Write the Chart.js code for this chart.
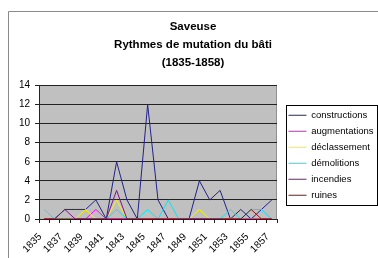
<!DOCTYPE html>
<html>
<head>
<meta charset="utf-8">
<script src="https://cdn.jsdelivr.net/npm/chart.js@4.4.0/dist/chart.umd.min.js"></script>
<style>
html, body { margin: 0; padding: 0; background: #fff; overflow: hidden; }
#wrap { position: relative; width: 378px; height: 258px; }
</style>
</head>
<body>
<div id="wrap"><canvas id="chart"></canvas></div>
<script>
var years = ['1835','1836','1837','1838','1839','1840','1841','1842','1843','1844','1845','1846',
             '1847','1848','1849','1850','1851','1852','1853','1854','1855','1856','1857'];
var constructions = [0,0,1,1,1,2,0,6,2,0,12,2,0,0,0,4,2,3,0,1,0,1,2];
var augmentations = [0,0,0,0,0,1,0,0,0,0,0,0,0,0,0,0,0,0,0,0,0,0,0];
var declassement  = [0,0,0,0,1,0,0,2,0,0,0,0,0,0,0,1,0,0,0,0,0,0,0];
var demolitions   = [1,0,0,0,0,0,0,1,0,0,1,0,2,0,0,0,0,0,1,0,1,1,0];
var incendies     = [0,0,1,0,0,0,0,3,0,0,0,0,0,0,0,0,0,0,0,0,0,0,0];
var ruines        = [0,0,0,0,0,0,0,0,0,0,0,0,0,0,0,0,0,0,0,0,1,0,0];
var yTicks = [0,2,4,6,8,10,12,14];

var FONT = "'Liberation Sans', Arial, sans-serif";

// frame round the whole chart + grey plot background + legend box
var frame = {
    id: 'frame',
    afterLayout: function (chart) {
        // legend sits a bit lower than chart.js would centre it
        var lg = chart.legend;
        var h = Math.max(lg.bottom - lg.top, 130);
        lg.top = 104;
        lg.bottom = lg.top + h;
    },
    beforeDraw: function (chart) {
        var ctx = chart.ctx, a = chart.chartArea;
        ctx.save();
        ctx.fillStyle = '#fff';
        ctx.fillRect(0, 0, chart.width, chart.height);
        ctx.strokeStyle = '#8a8a8a';
        ctx.lineWidth = 1;
        ctx.beginPath();
        ctx.moveTo(8.5, chart.height + 2);
        ctx.lineTo(8.5, 11.5);
        ctx.lineTo(chart.width + 2, 11.5);
        ctx.stroke();
        ctx.fillStyle = '#c0c0c0';
        ctx.fillRect(a.left, a.top, a.right - a.left, a.bottom - a.top);
        ctx.strokeStyle = '#909090';
        ctx.beginPath();
        ctx.moveTo(Math.round(a.right) - 0.5, a.top);
        ctx.lineTo(Math.round(a.right) - 0.5, a.bottom);
        ctx.stroke();
        ctx.restore();
    },
    afterDraw: function (chart) {
        var hb = chart.legend.legendHitBoxes;
        if (!hb || !hb.length) return;
        var l = Infinity, r = -Infinity, t = Infinity, b = -Infinity;
        hb.forEach(function (h) {
            l = Math.min(l, h.left);
            r = Math.max(r, h.left + h.width);
            t = Math.min(t, h.top);
            b = Math.max(b, h.top + h.height);
        });
        var ctx = chart.ctx;
        ctx.save();
        ctx.strokeStyle = '#000';
        ctx.lineWidth = 1;
        ctx.strokeRect(Math.round(l - 3) + 0.5, Math.round(t - 6) + 0.5, Math.round(r - l + 6), Math.round(b - t + 10));
        ctx.restore();
    }
};

function serie(label, data, color, order) {
    return {
        label: label,
        data: data,
        borderColor: color,
        backgroundColor: color,
        borderWidth: 1,
        pointRadius: 0,
        tension: 0,
        fill: false,
        order: order
    };
}

new Chart(document.getElementById('chart'), {
    type: 'line',
    data: {
        labels: years,
        datasets: [
            serie('constructions', constructions, '#22228a', 5),
            serie('augmentations', augmentations, '#ff00ff', 4),
            serie('déclassement', declassement, '#f5f500', 3),
            serie('démolitions', demolitions, '#00e8f0', 2),
            serie('incendies', incendies, '#86108a', 1),
            serie('ruines', ruines, '#8a1010', 0)
        ]
    },
    options: {
        responsive: true,
        maintainAspectRatio: false,
        animation: false,
        devicePixelRatio: 1,
        layout: { padding: { top: 14, left: 8, right: 0, bottom: 0 } },
        plugins: {
            title: {
                display: true,
                text: ['Saveuse', 'Rythmes de mutation du bâti', '(1835-1858)'],
                color: '#000',
                font: { family: FONT, size: 11.5, weight: 'bold', lineHeight: 1.55 },
                padding: { top: 4, bottom: 14 }
            },
            legend: {
                position: 'right',
                align: 'start',
                maxWidth: 96,
                labels: {
                    usePointStyle: true,
                    pointStyle: 'line',
                    pointStyleWidth: 18,
                    padding: 6.5,
                    color: '#000',
                    font: { family: FONT, size: 9.5 },
                    sort: function (a, b) { return a.datasetIndex - b.datasetIndex; }
                }
            },
            tooltip: { enabled: false }
        },
        scales: {
            x: {
                offset: true,
                grid: { offset: true, drawOnChartArea: false, drawTicks: true, tickLength: 4, color: '#222' },
                border: { display: true, color: '#222' },
                ticks: {
                    autoSkip: false,
                    minRotation: 45,
                    maxRotation: 45,
                    padding: 8,
                    labelOffset: -4,
                    color: '#000',
                    font: { family: FONT, size: 10 },
                    callback: function (v, i) { return i % 2 === 0 ? this.getLabelForValue(v) : ''; }
                },
                afterFit: function (s) { s.height = 39; }
            },
            y: {
                min: 0,
                max: 14,
                afterBuildTicks: function (s) { s.ticks = yTicks.map(function (v) { return { value: v }; }); },
                grid: { color: '#222', tickLength: 4 },
                border: { color: '#222' },
                ticks: { padding: 5, color: '#000', font: { family: FONT, size: 10 } },
                afterFit: function (s) { s.width = 31; }
            },
            gap: {
                type: 'linear',
                position: 'right',
                display: true,
                grid: { display: false, drawTicks: false },
                border: { display: false },
                ticks: { display: false },
                afterFit: function (s) { s.width = 5; }
            }
        }
    },
    plugins: [frame]
});
</script>
</body>
</html>
